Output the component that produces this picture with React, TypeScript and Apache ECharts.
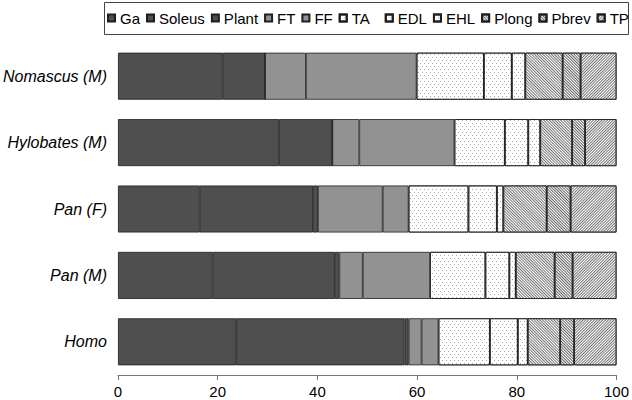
import React, { useEffect, useRef } from "react";
import * as echarts from "echarts";

const categories = ["Nomascus (M)", "Hylobates (M)", "Pan (F)", "Pan (M)", "Homo"];
const seriesNames = ["Ga", "Soleus", "Plant", "FT", "FF", "TA", "EDL", "EHL", "Plong", "Pbrev", "TP"];
const Ga = [21.0, 32.3, 16.4, 19.0, 23.7];
const Soleus = [8.5, 10.7, 22.7, 24.5, 33.8];
const Plant = [0, 0, 1.0, 0.9, 0.8];
const FT = [8.2, 5.4, 13.0, 4.7, 2.6];
const FF = [22.2, 19.1, 5.2, 13.5, 3.4];
const TA = [13.5, 10.1, 12.0, 11.1, 10.3];
const EDL = [5.6, 4.7, 5.7, 4.8, 5.6];
const EHL = [2.7, 2.4, 1.3, 1.3, 2.0];
const Plong = [7.5, 6.4, 8.7, 7.8, 6.5];
const Pbrev = [3.6, 2.6, 4.8, 3.6, 2.8];
const TP = [7.2, 6.3, 9.2, 8.8, 8.5];
const xTicks = [0, 20, 40, 60, 80, 100];

const FONT = "'Liberation Sans', Arial, Helvetica, sans-serif";

export default function App() {
  const ref = useRef<HTMLDivElement>(null);
  useEffect(() => {
    if (!ref.current) return;
    const chart = echarts.init(ref.current, null, { renderer: "svg" });
    const values = [Ga, Soleus, Plant, FT, FF, TA, EDL, EHL, Plong, Pbrev, TP];
    const dark = "#4f4f4f";
    const mid = "#929292";
    const dots = {
      symbol: "rect",
      symbolSize: 1,
      color: "#a8a8a8",
      backgroundColor: "#ffffff",
      dashArrayX: [[1, 3], [0, 2, 1, 1]],
      dashArrayY: [1, 2],
      rotation: 0,
    };
    const hatch = (rot: number, w: number, gap: number, color: string) => ({
      symbol: "rect",
      symbolSize: 1,
      color,
      backgroundColor: "#ffffff",
      dashArrayX: [1, 0],
      dashArrayY: [w, gap],
      rotation: rot,
    });
    const styles: any[] = [
      { color: dark },
      { color: dark },
      { color: dark },
      { color: mid },
      { color: mid },
      { color: "#ffffff", decal: dots },
      { color: "#ffffff", decal: dots },
      { color: "#ffffff", decal: dots },
      { color: "#ffffff", decal: hatch(Math.PI / 4, 1, 1, "#777777") },
      { color: "#ffffff", decal: hatch(Math.PI / 4, 1, 1, "#666666") },
      { color: "#ffffff", decal: hatch(-Math.PI / 4, 1, 1, "#777777") },
    ];
    const legendData = seriesNames.map((n) =>
      n === "TA" ? { name: n, textStyle: { padding: [0, 9, 0, 0] } } : { name: n }
    );
    chart.setOption({
      animation: false,
      textStyle: { fontFamily: FONT },
      graphic: [
        {
          type: "rect",
          shape: { x: 104.5, y: 2.5, width: 524, height: 32 },
          style: { fill: "none", stroke: "#444", lineWidth: 1 },
          silent: true,
        },
      ],
      legend: {
        left: 107,
        top: 9,
        itemWidth: 7,
        itemHeight: 7,
        itemGap: 6,
        icon: "rect",
        padding: 0,
        data: legendData,
        textStyle: { fontSize: 15, color: "#000", fontFamily: FONT, lineHeight: 18 },
      },
      grid: { left: 118, right: 15, top: 43, bottom: 25 },
      xAxis: {
        type: "value",
        min: 0,
        max: 100,
        interval: 20,
        axisLine: { show: true, lineStyle: { color: "#777" } },
        axisTick: { show: true, length: 5, lineStyle: { color: "#777" } },
        splitLine: { show: false },
        axisLabel: {
          fontSize: 15,
          color: "#000",
          margin: 9,
          fontFamily: FONT,
          formatter: (v: number) => (xTicks.includes(v) ? String(v) : ""),
        },
      },
      yAxis: {
        type: "category",
        data: categories,
        inverse: true,
        axisLine: { show: false },
        axisTick: { show: false },
        axisLabel: { fontSize: 16, fontStyle: "italic", color: "#000", margin: 11, fontFamily: FONT },
      },
      series: seriesNames.map((name, i) => ({
        name,
        type: "bar",
        stack: "total",
        barWidth: 47,
        data: values[i],
        itemStyle: { ...styles[i], borderColor: "#1e1e1e", borderWidth: 0.8 },
        emphasis: { disabled: true },
      })),
    });
    return () => chart.dispose();
  }, []);
  return <div ref={ref} style={{ width: 632, height: 400, position: "absolute", left: 0, top: 0 }} />;
}
